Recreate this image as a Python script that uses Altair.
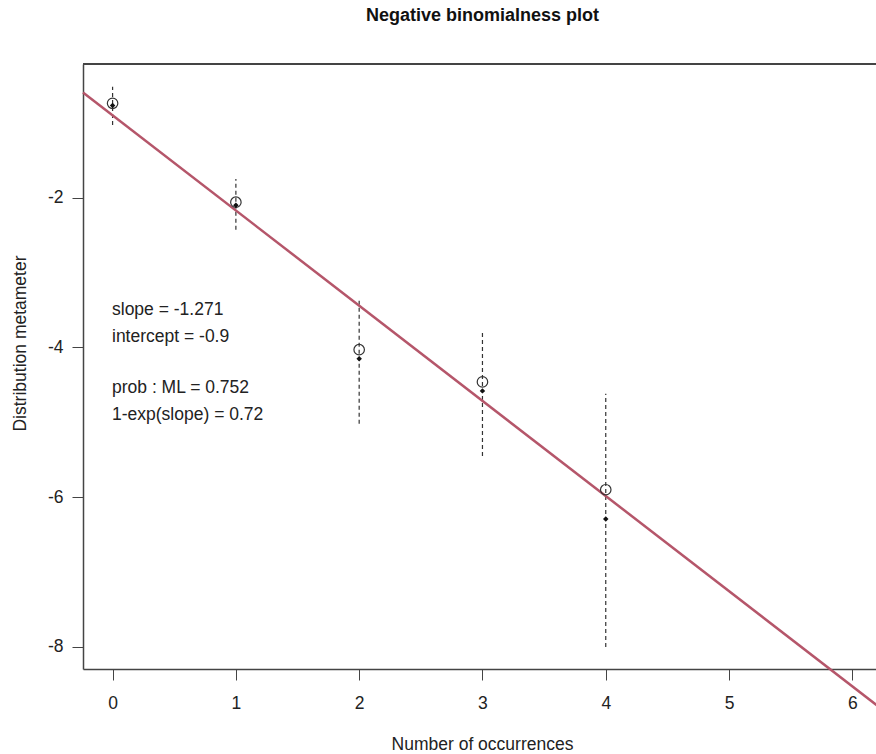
import altair as alt
import pandas as pd

counts = [0, 1, 2, 3, 4]
metameter = [-0.74, -2.06, -4.03, -4.46, -5.90]
centered = [-0.77, -2.10, -4.15, -4.58, -6.29]
ci_lower = [-1.03, -2.43, -5.02, -5.45, -8.00]
ci_upper = [-0.52, -1.75, -3.37, -3.79, -4.62]

slope = -1.271
intercept = -0.9
ml_prob = 0.752
exp_prob = 0.72

x_domain = [-0.24, 6.192]
y_domain = [-8.294, -0.215]
x_ticks = [0, 1, 2, 3, 4, 5, 6]
y_ticks = [-8, -6, -4, -2]

FONT = "Liberation Sans"
W, H = 793, 605

df = pd.DataFrame({
    "x": counts, "meta": metameter, "cent": centered,
    "lo": ci_lower, "hi": ci_upper,
})
line_df = pd.DataFrame({
    "x": [-0.24, 6.24],
    "y": [intercept + slope * -0.24, intercept + slope * 6.24],
})
block1 = f"slope = {slope}\nintercept = {intercept}"
block2 = f"prob : ML = {ml_prob}\n1-exp(slope) = {exp_prob}"

xs = alt.Scale(domain=x_domain, nice=False, zero=False)
ys = alt.Scale(domain=y_domain, nice=False, zero=False)

xaxis = alt.Axis(values=x_ticks, labelExpr="datum.value + ''", grid=False,
                 title="Number of occurrences",
                 tickSize=11, labelPadding=14, titlePadding=0,
                 titleX=399, titleY=80, titleBaseline="alphabetic", titleAlign="center",
                 domainColor="#444444", tickColor="#444444", domainWidth=1.5)
yaxis = alt.Axis(values=y_ticks, labelExpr="datum.value + ''", grid=False,
                 title="Distribution metameter",
                 tickSize=11, labelPadding=9, titleX=-58, titleY=279,
                 titleAngle=-90, titleBaseline="alphabetic", titleAlign="center",
                 domainColor="#444444", tickColor="#444444", domainWidth=1.5)

base = alt.Chart(df)

ci = base.mark_rule(strokeDash=[4, 3], color="#333333", strokeWidth=1.2).encode(
    x=alt.X("x:Q", scale=xs, axis=xaxis),
    y=alt.Y("lo:Q", scale=ys, axis=yaxis),
    y2="hi:Q",
)

reg = alt.Chart(line_df).mark_line(color="#B5566A", strokeWidth=2.5, clip=False).encode(
    x=alt.X("x:Q", scale=xs),
    y=alt.Y("y:Q", scale=ys),
)

filled = base.mark_point(shape="diamond", filled=True, color="#111111", size=30, opacity=1).encode(
    x=alt.X("x:Q", scale=xs),
    y=alt.Y("cent:Q", scale=ys),
)

opened = base.mark_point(shape="circle", filled=False, color="#333333", size=110,
                         strokeWidth=1.2, opacity=1).encode(
    x=alt.X("x:Q", scale=xs),
    y=alt.Y("meta:Q", scale=ys),
)

top_frame = alt.Chart(df).mark_rule(color="#444444", strokeWidth=1.5).encode(
    x=alt.value(0), x2=alt.value(W), y=alt.value(0)
)

def note(text, ypix):
    return alt.Chart(pd.DataFrame({"label": [text]})).mark_text(
        align="left", baseline="middle", font=FONT, fontSize=17.5, color="#222222",
        lineBreak="\n", lineHeight=27,
    ).encode(x=alt.value(29), y=alt.value(ypix), text="label:N")

txt1 = note(block1, 246)
txt2 = note(block2, 324)

chart = alt.layer(ci, reg, opened, filled, top_frame, txt1, txt2).properties(
    width=W, height=H,
    background="white",
    title=alt.TitleParams("Negative binomialness plot", font=FONT, fontSize=18,
                          fontWeight="bold", color="#111111", offset=24,
                          baseline="alphabetic", anchor="middle", dx=3),
    padding={"left": 83, "top": 64, "right": 0, "bottom": 85},
    autosize=alt.AutoSizeParams(type="none"),
).configure_view(stroke=None).configure_axis(
    labelFont=FONT, titleFont=FONT, labelFontSize=17.5, titleFontSize=17.5,
    labelColor="#222222", titleColor="#222222", titleFontWeight="normal",
)

chart.save("out.html", embed_options={"renderer": "svg", "actions": False})
